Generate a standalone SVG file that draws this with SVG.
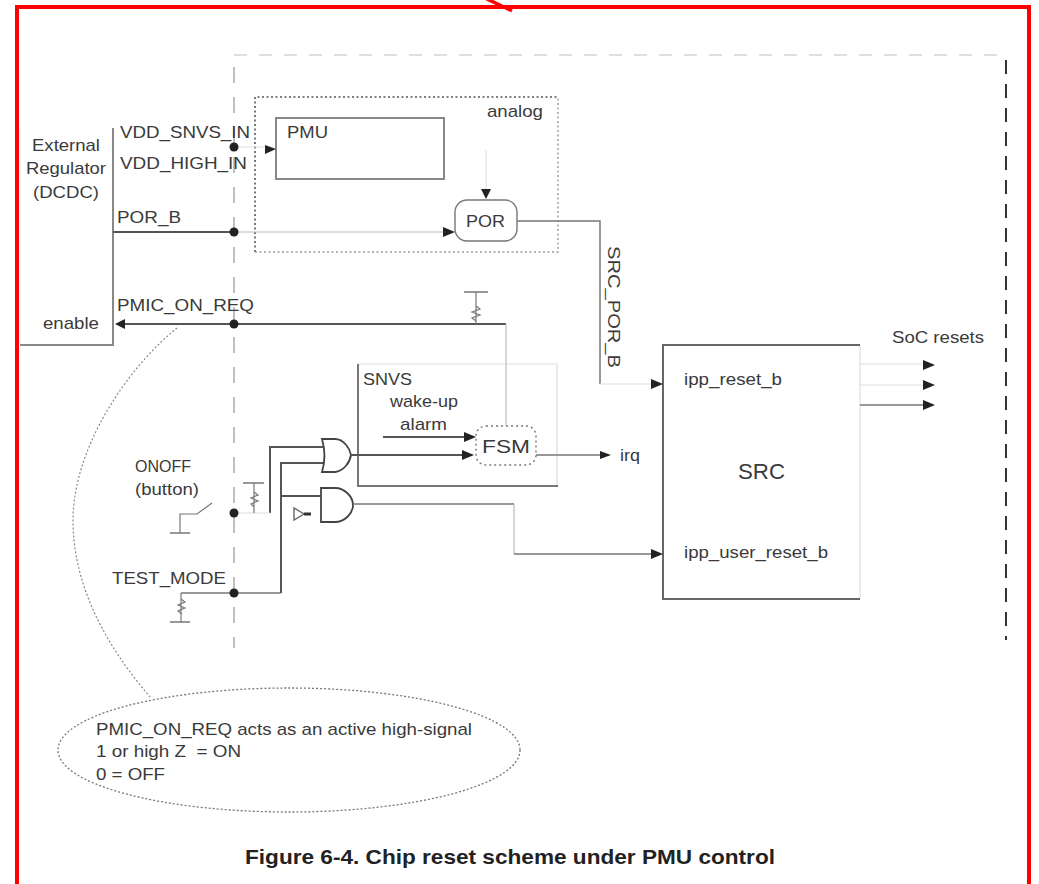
<svg xmlns="http://www.w3.org/2000/svg" width="1039" height="884" viewBox="0 0 1039 884">
<style>
text{font-family:"Liberation Sans",Arial,sans-serif;fill:#3a3a3a;font-size:17px}
.w{fill:none;stroke:#555;stroke-width:2}
.t{fill:none;stroke:#bbb;stroke-width:1.2}
.f{fill:none;stroke:#ddd;stroke-width:1}
.k{fill:none;stroke:#777;stroke-width:1.5}
.r{fill:none;stroke:#777;stroke-width:1.2}
.d{fill:#222}
.ar{fill:#222;stroke:none}
</style>
<rect width="1039" height="884" fill="#fff"/>
<g id="frame">
<path d="M17 884V7H1029V884" fill="none" stroke="#f00" stroke-width="4"/>
<path d="M476 -6L512 11L478 -6Z" fill="#f00" stroke="#f00" stroke-width="3"/>
</g>
<g id="boundary" fill="none">
<path d="M234 55H1006" stroke="#d4d4d4" stroke-width="1.6" stroke-dasharray="13 12"/>
<path d="M234 67V648" stroke="#b0b0b0" stroke-width="1.6" stroke-dasharray="16 14"/>
<path d="M1006 60V640" stroke="#333" stroke-width="2" stroke-dasharray="14 10"/>
</g>
<g id="external-regulator">
<path d="M20 128V345" fill="none" stroke="#eee" stroke-width="1"/>
<path d="M20 345H113V128" fill="none" stroke="#888" stroke-width="2"/>
<text x="32" y="151" textLength="68" lengthAdjust="spacingAndGlyphs">External</text>
<text x="26" y="174" textLength="80" lengthAdjust="spacingAndGlyphs">Regulator</text>
<text x="33" y="198" textLength="66" lengthAdjust="spacingAndGlyphs">(DCDC)</text>
<text x="43" y="329" textLength="56" lengthAdjust="spacingAndGlyphs">enable</text>
</g>
<g id="analog">
<path d="M255 252V97H558" fill="none" stroke="#555" stroke-width="1.6" stroke-dasharray="2 2.5"/>
<path d="M255 252H558V97" fill="none" stroke="#999" stroke-width="1.4" stroke-dasharray="2 2.5"/>
<text x="487" y="117" textLength="56" lengthAdjust="spacingAndGlyphs">analog</text>
</g>
<g id="pmu">
<rect x="276" y="118" width="168" height="61" fill="#fff" stroke="#888" stroke-width="2"/>
<text x="287" y="138" textLength="41" lengthAdjust="spacingAndGlyphs">PMU</text>
</g>
<g id="por">
<rect x="455" y="200" width="62" height="41" rx="12" fill="#fff" stroke="#777" stroke-width="1.4"/>
<text x="466" y="227" textLength="39" lengthAdjust="spacingAndGlyphs">POR</text>
</g>
<g id="snvs">
<path d="M358 364H557V486" fill="none" stroke="#ddd" stroke-width="1.2"/>
<path d="M358 364V486H558" fill="none" stroke="#777" stroke-width="2"/>
<text x="363" y="385" textLength="49" lengthAdjust="spacingAndGlyphs">SNVS</text>
<text x="390" y="407" textLength="68" lengthAdjust="spacingAndGlyphs">wake-up</text>
<text x="400" y="430" textLength="47" lengthAdjust="spacingAndGlyphs">alarm</text>
</g>
<g id="fsm">
<rect x="476" y="426" width="60" height="39" rx="10" fill="#fff" stroke="#777" stroke-width="1.4" stroke-dasharray="2 3"/>
<text x="482" y="453" textLength="48" lengthAdjust="spacingAndGlyphs" style="font-size:19px">FSM</text>
</g>
<g id="src">
<path d="M860 345V599" fill="none" stroke="#e4e4e4" stroke-width="1.5"/>
<path d="M860 345H663V599H860" fill="none" stroke="#666" stroke-width="2"/>
<text x="684" y="385" textLength="98" lengthAdjust="spacingAndGlyphs">ipp_reset_b</text>
<text x="684" y="558" textLength="144" lengthAdjust="spacingAndGlyphs">ipp_user_reset_b</text>
<text x="738" y="479" textLength="47" lengthAdjust="spacingAndGlyphs" style="font-size:22px">SRC</text>
</g>
<g id="and-top"><path d="M322 439H335C344 439 350 449 351 455C350 462 344 471 335 472H322C325 462 325 449 322 439Z" fill="#fff" stroke="#444" stroke-width="1.8"/></g>
<g id="and-bottom"><path d="M321 488H335C345 488 353 497 353 505C353 513 345 522 335 522H321Z" fill="#fff" stroke="#444" stroke-width="1.8"/></g>
<g id="inverter"><path d="M294 508V520L304 514Z" fill="#fff" stroke="#666" stroke-width="1.4"/><path d="M304 514H311" stroke="#333" stroke-width="3"/></g>
<g id="connectors">
<path class="w" d="M113 232H234"/>
<path class="t" d="M234 232H446"/>
<path class="k" d="M517 221H600V384"/>
<path class="f" d="M600 384H652"/>
<path class="w" d="M124 324H506"/>
<path class="t" d="M506 324V426"/>
<path class="k" d="M464 292H488"/>
<path class="r" d="M476 292V324M476 306L480 309L472 312L480 315L472 318L476 321"/>
<path class="f" d="M486 150V192"/>
<path class="f" d="M234 147H265"/>
<path class="w" d="M383 437H466"/>
<path class="w" d="M351 455H466"/>
<path class="k" d="M536 455H600"/>
<path class="w" d="M270 513V447H323"/>
<path class="w" d="M281 593V463H323"/>
<path class="w" d="M281 496H321"/>
<path class="k" d="M353 504H514"/>
<path class="t" d="M514 504V554"/>
<path class="k" d="M514 554H652"/>
<path class="f" d="M234 513H270"/>
<path class="k" d="M234 593H281"/>
<path class="r" d="M180 533V514H197L212 503"/>
<path class="k" d="M170 533H190"/>
<path class="k" d="M243 483H264"/>
<path class="r" d="M254 483V513M254 492L258 495L251 498L258 501L251 504L254 507"/>
<path class="k" d="M234 593H181"/>
<path class="r" d="M181 593V622M181 599L185 602L178 605L185 608L178 611L182 614"/>
<path class="k" d="M170 622H190"/>
<path d="M860 364H924M860 385H924" class="f"/>
<path class="k" d="M860 405H924"/>
<path d="M177 328C125 370 73 450 73 520C73 590 110 650 150 697" fill="none" stroke="#888" stroke-width="1.2" stroke-dasharray="2 2"/>
<circle class="d" cx="234" cy="147" r="4.5"/>
<circle class="d" cx="234" cy="232" r="4.5"/>
<circle class="d" cx="234" cy="324" r="4.5"/>
<circle class="d" cx="234" cy="513" r="4.5"/>
<circle class="d" cx="234" cy="593" r="4.5"/>
<path class="ar" d="M115 324L125 319V329Z"/>
<path class="ar" d="M276 149L265 145V154Z"/>
<path class="ar" d="M455 232L443 227V237Z"/>
<path class="ar" d="M486 199L481 189H491Z"/>
<path class="ar" d="M663 384L651 379V389Z"/>
<path class="ar" d="M663 554L651 549V559Z"/>
<path class="ar" d="M476 437L464 432V442Z"/>
<path class="ar" d="M474 455L462 450V460Z"/>
<path class="ar" d="M611 455L600 451V459Z"/>
<path class="ar" d="M935 365L923 360V370Z"/>
<path class="ar" d="M935 385L923 380V390Z"/>
<path class="ar" d="M935 405L923 400V410Z"/>
</g>
<g id="note">
<ellipse cx="289" cy="750" rx="231" ry="62" fill="none" stroke="#777" stroke-width="1.3" stroke-dasharray="2 2"/>
<text x="96" y="735" textLength="376" lengthAdjust="spacingAndGlyphs">PMIC_ON_REQ acts as an active high-signal</text>
<text x="96" y="757" textLength="145" lengthAdjust="spacingAndGlyphs" xml:space="preserve">1 or high Z  = ON</text>
<text x="96" y="780" textLength="69" lengthAdjust="spacingAndGlyphs">0 = OFF</text>
</g>
<g id="labels">
<text x="120" y="138" textLength="130" lengthAdjust="spacingAndGlyphs">VDD_SNVS_IN</text>
<text x="120" y="169" textLength="127" lengthAdjust="spacingAndGlyphs">VDD_HIGH_IN</text>
<text x="117" y="223" textLength="64" lengthAdjust="spacingAndGlyphs">POR_B</text>
<text x="117" y="311" textLength="137" lengthAdjust="spacingAndGlyphs">PMIC_ON_REQ</text>
<text x="135" y="472" textLength="56" lengthAdjust="spacingAndGlyphs">ONOFF</text>
<text x="135" y="495" textLength="64" lengthAdjust="spacingAndGlyphs">(button)</text>
<text x="112" y="584" textLength="114" lengthAdjust="spacingAndGlyphs">TEST_MODE</text>
<text x="620" y="461" textLength="20" lengthAdjust="spacingAndGlyphs">irq</text>
<text x="892" y="343" textLength="92" lengthAdjust="spacingAndGlyphs">SoC resets</text>
<text transform="translate(608 246) rotate(90)" textLength="122" lengthAdjust="spacingAndGlyphs">SRC_POR_B</text>
<text x="245" y="864" textLength="530" lengthAdjust="spacingAndGlyphs" style="font-size:21px;font-weight:bold;fill:#222">Figure 6-4. Chip reset scheme under PMU control</text>
</g>
</svg>
